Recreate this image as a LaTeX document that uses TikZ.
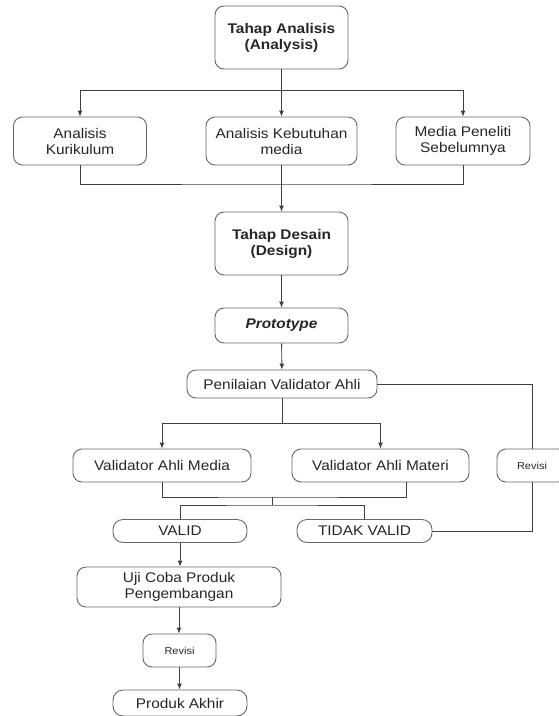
\documentclass[tikz,border=0pt]{standalone}
\usepackage{fontspec}
\setmainfont{Liberation Sans}[FakeStretch=1.1]
\usepackage{tikz}
\usetikzlibrary{positioning}
\usetikzlibrary{arrows.meta}

\tikzset{
  box/.style={draw=black!60, line width=0.9pt, rounded corners=9pt, align=center,
    text=black!85, inner sep=2pt, font=\fontsize{14}{16}\selectfont},
  smallbox/.style={box, font=\fontsize{10}{12}\selectfont},
  link/.style={draw=black!75, line width=0.9pt},
}

\begin{document}
\begin{tikzpicture}[x=1pt,y=-1pt,>={Latex[length=6pt,width=5pt]}]
  \useasboundingbox (0,0) rectangle (559,716);
  % analysis stage
  \node[box,minimum width=133pt,minimum height=63pt] (ana) at (281.5,37.5) {\textbf{Tahap Analisis}\\\textbf{(Analysis)}};
  \node[box,minimum width=133pt,minimum height=48pt] (kur) at (80,141) {Analisis\\Kurikulum};
  \node[box,minimum width=151pt,minimum height=48pt] (keb) at (281.5,141) {Analisis Kebutuhan\\media};
  \node[box,minimum width=134pt,minimum height=48pt] (med) at (463,141) {Media Peneliti\\Sebelumnya};
  \coordinate (b1) at (281.5,90);
  \draw[link,->] (ana) -- (keb);
  \draw[link,->] (b1) -| (kur.north);
  \draw[link,->] (b1) -| (med.north);
  \coordinate (m1) at (281.5,184);
  \draw[link] (kur.south) |- (m1) -| (med.south);
  % design stage
  \node[box,minimum width=133pt,minimum height=63pt] (des) at (281.5,243.5) {\textbf{Tahap Desain}\\\textbf{(Design)}};
  \node[box,minimum width=133pt,minimum height=35pt] (pro) at (281.5,325.5) {\textbf{\textit{Prototype}}};
  \node[box,minimum width=190pt,minimum height=28pt] (pen) at (282,384) {Penilaian Validator Ahli};
  \draw[link,->] (keb) -- (des);
  \draw[link,->] (des) -- (pro);
  \draw[link,->] (pro) -- (pen);
  % validation
  \node[box,minimum width=178pt,minimum height=33pt] (vme) at (162,465.5) {Validator Ahli Media};
  \node[box,minimum width=177pt,minimum height=33pt] (vma) at (380.5,465.5) {Validator Ahli Materi};
  \node[smallbox,minimum width=70pt,minimum height=33pt] (rev1) at (532,465.5) {Revisi};
  \coordinate (b2) at (282,423);
  \draw[link] (pen) -- (b2);
  \draw[link,->] (b2) -| (vme.north);
  \draw[link,->] (b2) -| (vma.north);
  \node[box,rounded corners=10pt,minimum width=134pt,minimum height=23pt] (val) at (180,531) {VALID};
  \node[box,rounded corners=10pt,minimum width=135pt,minimum height=23pt] (tdk) at (364.5,531) {TIDAK VALID};
  \coordinate (m2) at (272,497);
  \coordinate (s2) at (272,505);
  \draw[link] (vme.south) |- (m2) -| ([xshift=25.5pt]vma.south);
  \draw[link] (m2) -- (s2);
  \draw[link] (val.north) |- (s2) -| (tdk.north);
  % revision loop
  \draw[link] (pen.east) -| (rev1.north);
  \draw[link] (rev1.south) |- (tdk.east);
  % trial and final product
  \node[box,minimum width=204pt,minimum height=40pt] (uji) at (179,587) {Uji Coba Produk\\Pengembangan};
  \node[smallbox,minimum width=73pt,minimum height=33pt] (rev2) at (179.5,650.5) {Revisi};
  \node[box,rounded corners=10pt,minimum width=134pt,minimum height=26pt] (akh) at (180,703) {Produk Akhir};
  \draw[link,->] (val.south) -- (val.south |- uji.north);
  \draw[link,->] (uji.south) -- (uji.south |- rev2.north);
  \draw[link,->] (rev2.south) -- (rev2.south |- akh.north);
\end{tikzpicture}
\end{document}
